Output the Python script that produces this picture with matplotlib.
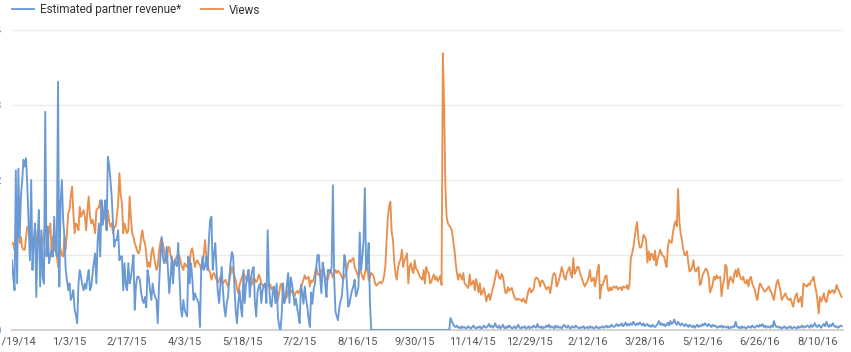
import matplotlib
matplotlib.use('Agg')
import matplotlib.pyplot as plt
import pandas as pd

# Daily values (gridline step = 1 unit)
start_date = '2014-11-19'
tick_labels = ['11/19/14', '1/3/15', '2/17/15', '4/3/15', '5/18/15', '7/2/15', '8/16/15',
               '9/30/15', '11/14/15', '12/29/15', '2/12/16', '3/28/16', '5/12/16',
               '6/26/16', '8/10/16']
y_ticks = [0, 1, 2, 3, 4]
y_tick_labels = ['$0', '$1', '$2', '$3', '$4']

revenue = [
    0.93, 0.7, 0.53, 2.13, 0.62, 2.15, 1.24, 1.78, 2.0, 2.27,
    2.18, 2.29, 1.91, 1.4, 0.93, 2.0, 0.8, 1.2, 1.42, 0.44,
    1.2, 1.6, 0.58, 1.33, 0.7, 0.62, 2.91, 0.98, 1.38, 0.89,
    1.0, 1.07, 0.98, 1.51, 1.1, 0.98, 3.31, 0.58, 1.69, 2.0,
    1.47, 1.24, 0.8, 0.67, 0.53, 0.62, 0.4, 0.45, 0.53, 0.27,
    0.2, 0.09, 0.62, 0.8, 0.71, 0.6, 0.53, 0.62, 0.55, 0.7,
    0.8, 0.53, 0.58, 0.75, 0.9, 1.02, 0.62, 1.2, 1.42, 0.98,
    1.73, 1.4, 1.6, 1.73, 1.33, 2.31, 2.2, 2.0, 1.78, 1.42,
    1.11, 1.2, 1.2, 1.33, 0.93, 0.98, 0.98, 0.53, 0.89, 0.6,
    0.53, 0.89, 0.62, 0.7, 0.84, 1.0, 0.27, 0.6, 0.71, 0.71,
    0.67, 0.5, 0.4, 0.36, 0.44, 0.3, 0.8,
    0.7, 0.53, 0.4, 0.62, 0.5, 0.44, 0.4, 0.09, 0.6, 0.95,
    1.24, 0.98, 0.89, 0.95, 1.11, 0.8, 0.49, 0.7, 0.98, 0.62,
    0.93, 0.89, 0.85, 1.16, 0.71, 0.3, 0.18, 0.4, 0.27, 0.22,
    0.18, 0.98, 0.62, 0.89, 0.7, 0.4, 0.49, 0.44, 0.4, 0.36,
    0.04, 0.8, 0.98, 0.8, 0.85, 0.98, 0.8, 1.2, 1.47, 1.51,
    0.8, 1.0, 1.16, 0.8, 0.5, 0.36, 0.6, 0.84, 0.53, 0.3,
    0.18, 0.36, 0.44, 0.71, 0.9, 1.04, 0.98, 0.58, 0.25, 0.09,
    0.36, 0.53, 0.3, 0.18, 0.8, 0.36, 0.6, 0.71, 0.8, 0.44,
    0.7, 0.8, 0.84, 0.36, 0.18, 0.5, 0.58, 0.62, 0.36, 0.53,
    0.6, 0.62, 0.36, 1.33, 0.62, 0.36, 0.31, 0.5, 0.58, 0.36,
    0.62, 0.18, 0.05, 0.0, 0.22, 0.62, 0.36, 0.44, 0.6, 0.76,
    0.36,
    0.7, 0.62, 0.49, 0.33, 0.42, 0.3, 0.2, 0.09, 0.6, 0.5,
    0.35, 0.58, 0.42, 0.3, 0.15, 0.04, 0.5, 0.35, 0.55, 0.62,
    0.84, 1.0, 1.0, 0.7, 0.49, 0.9, 0.8, 0.6, 0.44, 0.8,
    0.8, 0.76, 0.84, 1.93, 0.7, 0.25, 0.18, 0.13, 0.3, 0.38,
    0.45, 0.67, 1.0, 0.9, 0.6, 0.31, 0.35, 0.45, 0.53, 0.58,
    0.67, 0.45, 0.5, 0.58, 1.3, 0.8, 0.95, 1.2, 1.89, 0.8,
    0.9, 1.16, 0.36,
    0, 0, 0, 0, 0, 0, 0, 0, 0, 0, 0, 0, 0, 0, 0, 0, 0, 0, 0, 0,
    0, 0, 0, 0, 0, 0, 0, 0, 0, 0, 0, 0, 0, 0, 0, 0, 0, 0, 0, 0,
    0, 0, 0, 0, 0, 0, 0, 0, 0, 0, 0, 0, 0, 0, 0, 0, 0, 0, 0, 0,
    0, 0,
    0.16, 0.12, 0.08, 0.05, 0.04, 0.06, 0.03, 0.04, 0.02, 0.05, 0.03, 0.04, 0.02, 0.03, 0.05, 0.03, 0.02, 0.04, 0.06, 0.03,
    0.02, 0.04, 0.03, 0.05, 0.02, 0.03, 0.06, 0.04, 0.03, 0.05, 0.08, 0.04, 0.06, 0.03, 0.05, 0.09, 0.04, 0.03, 0.06, 0.02,
    0.04, 0.07, 0.03, 0.02, 0.05, 0.03, 0.06, 0.04, 0.02, 0.03, 0.05, 0.02, 0.04, 0.07, 0.03, 0.02, 0.04, 0.03, 0.05, 0.02,
    0.03, 0.05, 0.02, 0.04, 0.03, 0.06, 0.04, 0.03, 0.08, 0.04, 0.03, 0.05, 0.02, 0.04, 0.03, 0.06, 0.04, 0.07, 0.03, 0.05,
    0.04, 0.02, 0.06, 0.03, 0.05, 0.03, 0.04, 0.02, 0.05, 0.07, 0.04, 0.03, 0.06, 0.03, 0.02, 0.05, 0.04, 0.03, 0.06, 0.04,
    0.03, 0.02, 0.04, 0.03, 0.05, 0.02, 0.03, 0.04, 0.02, 0.05, 0.03, 0.04, 0.02, 0.03, 0.05, 0.03, 0.02, 0.04, 0.03, 0.05,
    0.03, 0.04, 0.06, 0.03, 0.05, 0.04, 0.07, 0.05, 0.04, 0.06, 0.08, 0.05, 0.07, 0.06, 0.09, 0.05, 0.07, 0.1, 0.06, 0.08,
    0.06, 0.09, 0.07, 0.11, 0.08, 0.06, 0.09, 0.07, 0.1, 0.08, 0.06, 0.09, 0.05, 0.07, 0.08, 0.05, 0.06, 0.04, 0.07, 0.05,
    0.04, 0.06, 0.08, 0.12, 0.07, 0.09, 0.06, 0.08, 0.05, 0.07, 0.1, 0.06, 0.12, 0.08, 0.1, 0.14, 0.09, 0.07, 0.11, 0.08,
    0.06, 0.09, 0.07, 0.05, 0.08, 0.06, 0.04, 0.07, 0.05, 0.04, 0.06, 0.03, 0.05, 0.07, 0.04, 0.06, 0.05, 0.08, 0.06, 0.09,
    0.07, 0.05, 0.08, 0.06, 0.04, 0.07, 0.05, 0.06, 0.04, 0.03, 0.05, 0.04, 0.06, 0.03, 0.05, 0.04, 0.03, 0.05, 0.02, 0.04,
    0.03, 0.05, 0.04, 0.11, 0.05, 0.03, 0.04, 0.02, 0.05, 0.03, 0.04, 0.02, 0.03, 0.05, 0.04, 0.03, 0.06, 0.04, 0.03, 0.05,
    0.06, 0.04, 0.07, 0.05, 0.08, 0.04, 0.06, 0.03, 0.05, 0.04, 0.03, 0.06, 0.04, 0.12, 0.06, 0.04, 0.05, 0.03, 0.04, 0.02,
    0.03, 0.05, 0.03, 0.02, 0.04, 0.03, 0.05, 0.02, 0.03, 0.04, 0.03, 0.02, 0.05, 0.03, 0.04, 0.06, 0.03, 0.05, 0.04, 0.06,
    0.05, 0.03, 0.07, 0.04, 0.06, 0.09, 0.05, 0.04, 0.07, 0.05, 0.03, 0.06, 0.08, 0.05, 0.11, 0.06, 0.04, 0.07, 0.05, 0.09,
    0.06, 0.04, 0.05, 0.03, 0.04, 0.06, 0.05,
]

views = [
    1.15, 1.16, 1.07, 1.29, 1.4, 1.42, 1.16, 1.24, 1.1, 1.07,
    1.07, 1.24, 1.38, 1.37, 1.36, 1.16, 1.07, 1.2, 1.18, 1.16,
    1.33, 1.2, 1.11, 1.07, 1.16, 1.3, 1.38, 1.29, 1.16, 1.35,
    1.42, 0.98, 1.24, 1.07, 1.05, 1.02, 0.84, 1.16, 1.07, 1.0,
    0.98, 1.24, 1.07, 1.3, 1.56, 1.6, 1.8, 1.91, 1.56, 1.29,
    1.42, 1.4, 1.33, 1.64, 1.51, 1.55, 1.6, 1.51, 1.33, 1.6,
    1.78, 1.51, 1.42, 1.47, 1.4, 1.29, 1.6, 1.62, 1.64, 1.73,
    1.47, 1.42, 1.5, 1.6, 1.33, 1.6, 1.45, 1.38, 1.42, 1.29,
    1.38, 1.38, 1.51, 1.69, 2.09, 1.8, 1.69, 1.29, 1.42, 1.35,
    1.29, 1.33, 1.78, 1.5, 1.29, 1.24, 1.16, 1.11, 1.05, 1.02,
    1.07, 1.24, 1.33, 1.2, 1.16, 1.02, 0.84,
    0.9, 0.84, 1.02, 1.1, 1.0, 0.89, 0.8, 0.85, 1.05, 1.16,
    1.22, 1.16, 1.05, 0.95, 0.89, 1.07, 1.11, 1.0, 0.93, 0.84,
    0.9, 0.95, 0.98, 1.02, 0.98, 0.9, 0.84, 0.8, 0.89, 0.86,
    0.84, 0.93, 0.89, 1.05, 1.09, 0.98, 0.84, 0.9, 0.93, 0.89,
    0.87, 0.8, 0.84, 1.0, 1.2, 0.98, 0.89, 0.8, 0.76, 0.67,
    0.74, 0.76, 0.71, 0.67, 0.63, 0.66, 0.71, 0.67, 0.62, 0.65,
    0.67, 0.62, 0.58, 0.65, 0.75, 0.84, 0.76, 0.72, 0.66, 0.55,
    0.49, 0.6, 0.66, 0.71, 0.76, 0.72, 0.68, 0.65, 0.8, 0.65,
    0.6, 0.62, 0.71, 0.67, 0.64, 0.67, 0.74, 0.7, 0.62, 0.6,
    0.58, 0.58, 0.6, 0.6, 0.58, 0.61, 0.54, 0.57, 0.52, 0.49,
    0.52, 0.4, 0.5, 0.6, 0.62, 0.45, 0.36, 0.42, 0.44, 0.53,
    0.6,
    0.5, 0.52, 0.49, 0.45, 0.5, 0.52, 0.49, 0.53, 0.55, 0.62,
    0.67, 0.73, 0.68, 0.69, 0.71, 0.58, 0.66, 0.64, 0.68, 0.76,
    0.84, 0.75, 0.73, 0.76, 0.8, 0.77, 0.74, 0.71, 0.67, 0.67,
    0.75, 0.8, 0.76, 0.7, 0.75, 0.8, 0.76, 0.79, 0.77, 0.74,
    0.71, 0.67, 0.72, 0.74, 0.8, 0.89, 0.93, 0.91, 0.94, 0.96,
    0.84, 0.8, 0.75, 0.71, 0.8, 0.77, 0.72, 0.67, 0.76, 0.82,
    0.84, 0.66, 0.71, 0.76, 0.74, 0.71, 0.62, 0.59, 0.61, 0.63,
    0.64, 0.62, 0.65, 0.72, 0.84, 1.2, 1.5, 1.65, 1.71, 1.3,
    1.2, 0.9, 0.75, 0.67, 0.84, 0.9, 0.95, 1.07, 0.84, 0.93,
    0.97, 1.02, 0.62, 0.84, 0.89, 0.8, 0.76, 0.93, 0.82, 0.8,
    0.76, 0.71, 0.69, 0.67, 0.8, 0.62, 0.84, 0.78, 0.76, 0.62,
    0.64, 0.7, 0.74, 0.67, 0.71, 0.65, 0.68, 0.72, 0.6, 3.69,
    3.0, 1.9, 1.5, 1.42, 1.39, 1.37, 1.33, 1.2, 1.08, 0.9,
    0.76, 0.67, 0.75, 0.72, 0.67, 0.76, 0.62, 0.6, 0.58, 0.56,
    0.74, 0.6, 0.62, 0.66, 0.53, 0.68, 0.6, 0.5, 0.62, 0.47,
    0.5, 0.56, 0.49, 0.38, 0.45, 0.48, 0.4, 0.48, 0.55, 0.62,
    0.7, 0.8, 0.77, 0.7, 0.68, 0.75, 0.71, 0.6, 0.49, 0.5,
    0.57, 0.52, 0.55, 0.56, 0.49, 0.44, 0.41, 0.4, 0.42, 0.41,
    0.4, 0.38, 0.42, 0.38, 0.36, 0.45, 0.53, 0.56, 0.5, 0.52,
    0.55, 0.67, 0.7, 0.69, 0.66, 0.58, 0.65, 0.66, 0.62, 0.58,
    0.54, 0.57, 0.57, 0.49, 0.6, 0.72, 0.76, 0.74, 0.58, 0.62,
    0.68, 0.75, 0.84, 0.78, 0.7, 0.67, 0.76, 0.8, 0.84,
    0.75, 0.7, 0.96, 0.75, 0.78, 0.84, 0.84, 0.78, 0.72, 0.68,
    0.62, 0.58, 0.62, 0.64, 0.7, 0.8, 0.65, 0.66, 0.7, 0.58,
    0.68, 0.8, 0.87, 0.42, 0.6, 0.6, 0.65, 0.71, 0.73, 0.55,
    0.52, 0.57, 0.53, 0.57, 0.58, 0.56, 0.58, 0.54, 0.56, 0.57,
    0.53, 0.58, 0.57, 0.56, 0.6, 0.54, 0.6, 0.95, 1.02, 1.1,
    1.22, 1.35, 1.44, 1.2, 1.1, 1.1, 1.16, 1.27, 1.24, 1.2,
    0.9, 1.05, 0.93, 1.02, 1.0, 0.93, 1.06, 0.86, 0.95, 1.0,
    1.07, 1.02, 0.99, 0.98, 0.9, 0.84, 1.1, 1.2, 1.18, 1.16,
    1.3, 1.4, 1.45, 1.38, 1.88, 1.45, 1.29, 1.2, 1.08, 1.0,
    1.0, 1.05, 0.89, 0.78, 0.8, 0.84, 0.93, 0.8, 0.78, 0.82,
    0.84, 0.6, 0.62, 0.72, 0.76, 0.8, 0.82, 0.78, 0.71, 0.5,
    0.55, 0.6, 0.71, 0.67, 0.73, 0.69, 0.7, 0.71, 0.45, 0.6,
    0.67, 0.87, 0.84, 0.55, 0.65, 0.71, 0.67, 0.63, 0.75, 0.8,
    0.71, 0.82, 0.74, 0.69, 0.67, 0.71, 0.64, 0.62, 0.67, 0.58,
    0.68, 0.71, 0.62, 0.58, 0.54, 0.45, 0.4, 0.53, 0.62, 0.6,
    0.56, 0.53, 0.51, 0.53, 0.56, 0.58, 0.53, 0.5, 0.45, 0.4,
    0.53, 0.62, 0.67, 0.6, 0.53, 0.4, 0.43, 0.46, 0.49, 0.44,
    0.41, 0.4, 0.42, 0.36, 0.31, 0.4, 0.46, 0.49, 0.37, 0.4,
    0.44, 0.31, 0.62, 0.6, 0.59, 0.58, 0.62, 0.6, 0.65, 0.67,
    0.71, 0.6, 0.52, 0.4, 0.22, 0.44, 0.38, 0.42, 0.49, 0.4,
    0.37, 0.45, 0.53, 0.49, 0.52, 0.53, 0.49, 0.53, 0.6, 0.55,
    0.52, 0.47, 0.44,
]

blue = '#6a9ad6'
orange = '#e8914f'

rev_dates = pd.date_range(start_date, periods=len(revenue), freq='D')
view_dates = pd.date_range(start_date, periods=len(views), freq='D')
tick_dates = pd.date_range(start_date, periods=len(tick_labels), freq='45D')

plt.rcParams['font.family'] = ['Roboto', 'DejaVu Sans']

fig = plt.figure(figsize=(8.51, 3.52), dpi=100)
ax = fig.add_axes([12 / 851, 22 / 352, 831 / 851, 300.75 / 352])

ax.plot(rev_dates, revenue, color=blue, lw=1.35, label='Estimated partner revenue*', zorder=3)
ax.plot(view_dates, views, color=orange, lw=1.35, label='Views', zorder=2)

ax.set_xlim(rev_dates[0], rev_dates[0] + pd.Timedelta(days=650))
ax.set_ylim(0, 4.01)

ax.set_xticks(tick_dates)
ax.set_xticklabels(tick_labels)
ax.set_yticks(y_ticks)
ax.set_yticklabels(y_tick_labels)
ax.tick_params(axis='x', length=0, pad=5, labelsize=8, labelcolor='#555555')
ax.tick_params(axis='y', length=0, pad=7.5, labelsize=8, labelcolor=blue)

ax.grid(axis='y', color='#ebebeb', lw=1)
ax.set_axisbelow(True)
for side in ['top', 'right', 'left']:
    ax.spines[side].set_visible(False)
ax.spines['bottom'].set_color('#d4d4d4')
ax.spines['bottom'].set_linewidth(1.5)

ax.legend(loc='center left', bbox_to_anchor=(12 / 851, 1 - 10 / 352),
          bbox_transform=fig.transFigure, ncol=2, frameon=False, fontsize=8.5,
          handlelength=1.9, handletextpad=0.45, columnspacing=1.7,
          borderpad=0, borderaxespad=0, labelcolor='#333333')

fig.savefig('out.png', dpi=100)
